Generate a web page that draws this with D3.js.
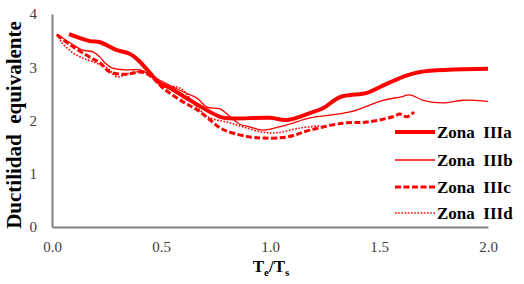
<!DOCTYPE html>
<html>
<head>
<meta charset="utf-8">
<script src="https://cdn.jsdelivr.net/npm/d3@7"></script>
<style>
  body { margin: 0; background: #fff; }
  svg { display: block; }
  svg text { font-family: "Liberation Serif", "Times New Roman", serif; }
</style>
</head>
<body>
<div id="chart"></div>
<script>
// values (Te/Ts , ductilidad equivalente)
const zonaIIIa = [
  [0.078, 3.62], [0.174, 3.49], [0.220, 3.47], [0.298, 3.32], [0.358, 3.25],
  [0.404, 3.10], [0.450, 2.89], [0.495, 2.70], [0.541, 2.61], [0.633, 2.38],
  [0.771, 2.07], [0.817, 2.04], [1.000, 2.05], [1.078, 2.01], [1.183, 2.14],
  [1.243, 2.23], [1.321, 2.44], [1.445, 2.52], [1.505, 2.63], [1.610, 2.82],
  [1.688, 2.91], [2.000, 2.97]
];
const zonaIIIb = [
  [0.023, 3.62], [0.083, 3.46], [0.142, 3.32], [0.188, 3.29], [0.220, 3.19],
  [0.243, 3.08], [0.275, 2.99], [0.344, 2.95], [0.404, 2.95], [0.450, 2.85],
  [0.601, 2.54], [0.665, 2.42], [0.711, 2.25], [0.771, 2.22], [0.817, 2.07],
  [0.862, 1.93], [0.908, 1.88], [0.968, 1.82], [1.078, 1.92], [1.183, 2.05],
  [1.367, 2.16], [1.518, 2.38], [1.596, 2.44], [1.642, 2.48], [1.702, 2.38],
  [1.794, 2.33], [1.885, 2.38], [2.000, 2.36]
];
const zonaIIIc = [
  [0.023, 3.61], [0.083, 3.42], [0.165, 3.21], [0.220, 3.08], [0.266, 2.91],
  [0.344, 2.87], [0.404, 2.91], [0.450, 2.84], [0.509, 2.61], [0.601, 2.35],
  [0.665, 2.20], [0.725, 2.01], [0.771, 1.86], [0.817, 1.78], [0.908, 1.69],
  [0.968, 1.67], [1.078, 1.69], [1.183, 1.82], [1.335, 1.95], [1.445, 1.97],
  [1.564, 2.07], [1.596, 2.12], [1.628, 2.07], [1.661, 2.16]
];
const zonaIIId = [
  [0.023, 3.62], [0.050, 3.44], [0.096, 3.27], [0.142, 3.17], [0.188, 3.10],
  [0.252, 2.99], [0.298, 2.82], [0.358, 2.89], [0.436, 2.91], [0.509, 2.65],
  [0.573, 2.63], [0.601, 2.57], [0.665, 2.25], [0.725, 2.05], [0.803, 1.97],
  [0.876, 1.88], [0.968, 1.78], [1.032, 1.77], [1.138, 1.86], [1.229, 1.90]
];
const seriesNames = ["Zona  IIIa", "Zona  IIIb", "Zona  IIIc", "Zona  IIId"];
const xTicks = [0, 0.5, 1.0, 1.5, 2.0];
const yTicks = [0, 1, 2, 3, 4];

const width = 524;
const height = 284;
const serif = "'Liberation Serif', 'Times New Roman', serif";

const x = d3.scaleLinear().domain([0, 2]).range([52, 488]);
const y = d3.scaleLinear().domain([0, 4]).range([227, 14]);

const svg = d3.select("#chart").append("svg")
  .attr("width", width)
  .attr("height", height);

// axes (no tick marks, just the gray lines and labels)
const xAxis = svg.append("g")
  .attr("transform", `translate(0, ${y(0)})`)
  .call(d3.axisBottom(x).tickValues(xTicks).tickFormat(d3.format(".1f")).tickSize(0).tickPadding(14));
const yAxis = svg.append("g")
  .attr("transform", `translate(${x(0)}, 0)`)
  .call(d3.axisLeft(y).tickValues(yTicks).tickFormat(d3.format("d")).tickSize(0).tickPadding(15));

[xAxis, yAxis].forEach(g => {
  g.attr("font-family", serif).attr("font-size", 15);
  g.select(".domain").attr("stroke", "#808080").attr("stroke-width", 2);
  g.selectAll("text")
    .style("font-family", serif)
    .style("font-size", "15px")
    .attr("fill", "#404040");
});

const styles = [
  { width: 4, dash: null },
  { width: 1.3, dash: null },
  { width: 3, dash: "6,2.5" },
  { width: 1.6, dash: "1.6,1.6" }
];

const line = d3.line()
  .x(d => x(d[0]))
  .y(d => y(d[1]))
  .curve(d3.curveCatmullRom);

const allSeries = [zonaIIIa, zonaIIIb, zonaIIIc, zonaIIId];

// draw back to front so the thick line stays on top
svg.append("g")
  .selectAll("path")
  .data(allSeries.map((d, i) => ({ d, i })).reverse())
  .join("path")
  .attr("d", s => line(s.d))
  .attr("fill", "none")
  .attr("stroke", "#ff0000")
  .attr("stroke-width", s => styles[s.i].width)
  .attr("stroke-dasharray", s => styles[s.i].dash)
  .attr("stroke-linejoin", "round");

// legend
const legendY = [132, 160, 187, 213];
const legend = svg.append("g");
legend.selectAll("line")
  .data(seriesNames)
  .join("line")
  .attr("x1", 395)
  .attr("x2", 435)
  .attr("y1", (d, i) => legendY[i])
  .attr("y2", (d, i) => legendY[i])
  .attr("stroke", "#ff0000")
  .attr("stroke-width", (d, i) => styles[i].width)
  .attr("stroke-dasharray", (d, i) => styles[i].dash);

legend.selectAll("text")
  .data(seriesNames)
  .join("text")
  .attr("x", 437)
  .attr("y", (d, i) => legendY[i] + 6)
  .attr("font-family", serif)
  .attr("font-weight", "bold")
  .attr("font-size", 17)
  .attr("fill", "#000")
  .style("white-space", "pre")
  .text(d => d);

// axis titles
svg.append("text")
  .attr("transform", "translate(21, 125) rotate(-90)")
  .attr("text-anchor", "middle")
  .attr("font-family", serif)
  .attr("font-weight", "bold")
  .attr("font-size", 21)
  .style("white-space", "pre")
  .text("Ductilidad  equivalente");

const xTitle = svg.append("text")
  .attr("x", 271)
  .attr("y", 272)
  .attr("text-anchor", "middle")
  .attr("font-family", serif)
  .attr("font-weight", "bold")
  .attr("font-size", 17);
xTitle.append("tspan").text("T");
xTitle.append("tspan").attr("font-size", 11).attr("dy", 4).text("e");
xTitle.append("tspan").attr("dy", -4).text("/T");
xTitle.append("tspan").attr("font-size", 11).attr("dy", 4).text("s");
</script>
</body>
</html>
